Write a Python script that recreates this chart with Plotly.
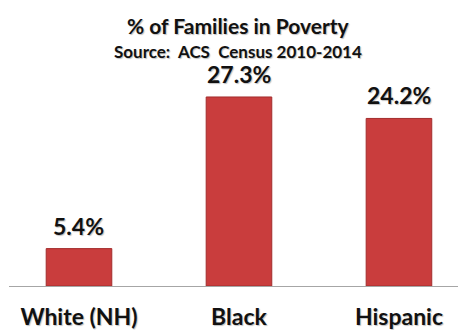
import plotly.graph_objects as go

categories = ["White (NH)", "Black", "Hispanic"]
values = [5.4, 27.3, 24.2]
value_labels = ["5.4%", "27.3%", "24.2%"]
title_text = "% of Families in Poverty"
subtitle_text = "Source:  ACS  Census 2010-2014"

FONT = "Lato, 'Open Sans', sans-serif"
SHADOW = "1px 1px 1px rgba(0,0,0,0.25)"

fig = go.Figure()
fig.add_trace(go.Bar(
    x=categories,
    y=values,
    width=0.41,
    marker=dict(color="#C93D3D", line=dict(color="#A32C2C", width=1)),
    hoverinfo="skip",
))

for c, v, t in zip(categories, values, value_labels):
    fig.add_annotation(x=c, y=v, text=t, showarrow=False, yanchor="bottom",
                       yshift=7, font=dict(family=FONT, size=23, color="#111111",
                                           weight="bold", shadow=SHADOW))

fig.add_annotation(xref="paper", yref="paper", x=(238 - 9) / 449, y=1, yshift=(40 - 25),
                   text="<b>" + title_text + "</b>", showarrow=False, yanchor="middle",
                   font=dict(family=FONT, size=21, color="#111111", shadow=SHADOW))
fig.add_annotation(xref="paper", yref="paper", x=(238 - 9) / 449, y=1, yshift=(40 - 51),
                   text="<b>" + subtitle_text + "</b>", showarrow=False, yanchor="middle",
                   font=dict(family=FONT, size=17, color="#111111", shadow=SHADOW))

fig.update_layout(
    width=458, height=330,
    margin=dict(l=9, r=0, t=40, b=44, autoexpand=False),
    paper_bgcolor="white", plot_bgcolor="white",
    showlegend=False,
)
fig.update_xaxes(
    range=[-0.4375, 2.369], automargin=False,
    showline=True, linecolor="#A6A6A6", linewidth=1,
    ticks="", showgrid=False, zeroline=False,
    tickfont=dict(family=FONT, size=23, color="#111111", weight="bold", shadow=SHADOW),
    ticklabelstandoff=10,
)
fig.update_yaxes(range=[0, 35.53], visible=False, showgrid=False, zeroline=False)

fig.write_html("out.html", config={"displayModeBar": False},
               post_script="document.body.style.margin='0';")
